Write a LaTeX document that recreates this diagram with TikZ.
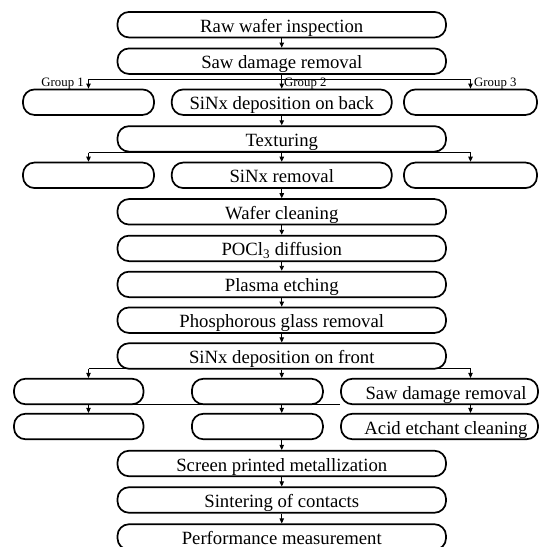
\documentclass[tikz,border=0pt]{standalone}
\usepackage{fontspec}
\setmainfont{Liberation Serif}
\usetikzlibrary{arrows.meta}
\begin{document}
\begin{tikzpicture}[x=1pt,y=-1pt,
  box/.style={draw, line width=1.7pt, rounded corners=11.5pt, minimum height=25.5pt, inner sep=0pt, text height=15pt, text depth=0pt, font=\fontsize{18.7}{20}\selectfont},
  mainbox/.style={box, minimum width=328.5pt},
  lbl/.style={inner sep=0pt, font=\fontsize{18.7}{20}\selectfont, text height=15pt, text depth=0pt},
  grp/.style={inner sep=0pt, font=\fontsize{12.8}{14}\selectfont},
  arr/.style={line width=0.9pt, -{Triangle[length=5pt,width=4.5pt]}},
  ln/.style={line width=0.9pt}]
\useasboundingbox (0,0) rectangle (542,547);
\clip (0,0) rectangle (542,547);

% main column and rows
\node[mainbox] (raw) at (281.75,24.7) {Raw wafer inspection};
\node[mainbox] (saw) at (281.75,61.2) {Saw damage removal};
\node[box, minimum width=131pt] (g1) at (88.5,102.2) {};
\node[box, minimum width=220pt] (g2) at (281.75,102.2) {SiNx deposition on back};
\node[box, minimum width=133pt] (g3) at (470.5,102.2) {};
\node[mainbox] (tex) at (281.75,138.9) {Texturing};
\node[box, minimum width=131pt] (s1) at (88.5,175.3) {};
\node[box, minimum width=220pt] (s2) at (281.75,175.3) {SiNx removal};
\node[box, minimum width=133pt] (s3) at (470.5,175.3) {};
\node[mainbox] (wcl) at (281.75,211.8) {Wafer cleaning};
\node[mainbox] (pocl) at (281.75,248.4) {POCl\textsubscript{3} diffusion};
\node[mainbox] (plas) at (281.75,284.4) {Plasma etching};
\node[mainbox] (phos) at (281.75,320.2) {Phosphorous glass removal};
\node[mainbox] (sinf) at (281.75,356) {SiNx deposition on front};
\node[box, minimum width=129.5pt] (a1) at (78.75,391.5) {};
\node[box, minimum width=131pt] (a2) at (257.4,391.5) {};
\node[box, minimum width=197pt] (a3) at (439.5,391.5) {};
\node[lbl] (a3t) at (446,391.5) {Saw damage removal};
\node[box, minimum width=129.5pt] (b1) at (78.75,426.5) {};
\node[box, minimum width=131pt] (b2) at (257.4,426.5) {};
\node[box, minimum width=197pt] (b3) at (439.5,426.5) {};
\node[lbl] (b3t) at (446,426.5) {Acid etchant cleaning};
\node[mainbox] (scr) at (281.75,463.5) {Screen printed metallization};
\node[mainbox] (sint) at (281.75,500) {Sintering of contacts};
\node[mainbox] (perf) at (281.75,537) {};
\node[lbl] (perft) at (281.75,536.5) {Performance measurement};

% group labels
\node[grp, anchor=base east] (gt1) at (84,86) {Group 1};
\node[grp, anchor=base west] (gt2) at (284,86) {Group 2};
\node[grp, anchor=base west] (gt3) at (474,86) {Group 3};

% connectors
\draw[arr] (raw) -- (saw);
\coordinate (gl) at (88.5,79);
\coordinate (gr) at (470.5,79);
\draw[ln] (gl) -- (gr);
\draw[arr] (gl) -- (g1);
\draw[arr] (gr) -- (g3);
\draw[arr] (saw) -- (g2);
\draw[arr] (g2) -- (tex);

\draw[ln] (tex.south -| s1) -- (tex.south -| s3);
\draw[arr] (tex.south -| s1) -- (s1);
\draw[arr] (tex.south -| s3) -- (s3);
\draw[arr] (tex) -- (s2);
\draw[arr] (s2) -- (wcl);
\draw[arr] (wcl) -- (pocl);
\draw[arr] (pocl) -- (plas);
\draw[arr] (plas) -- (phos);
\draw[arr] (phos) -- (sinf);

\coordinate (f1) at (88.5,368.75);
\coordinate (f3) at (470.5,368.75);
\draw[ln] (f1) -- (f3);
\draw[arr] (f1) -- (f1 |- a1.north);
\draw[arr] (sinf.south) -- (sinf.south |- a2.north);
\draw[arr] (f3) -- (f3 |- a3.north);

\coordinate (h1) at (88.5,404.25);
\draw[ln] (h1) -- (h1 -| a3.west);
\draw[arr] (h1) -- (h1 |- b1.north);
\draw[arr] (h1 -| sinf.south) -- (sinf.south |- b2.north);
\draw[arr] (a3.south -| f3) -- (f3 |- b3.north);

\draw[arr] (scr.north |- b2.south) -- (scr.north);
\draw[arr] (scr) -- (sint);
\draw[arr] (sint) -- (perf);
\end{tikzpicture}
\end{document}
